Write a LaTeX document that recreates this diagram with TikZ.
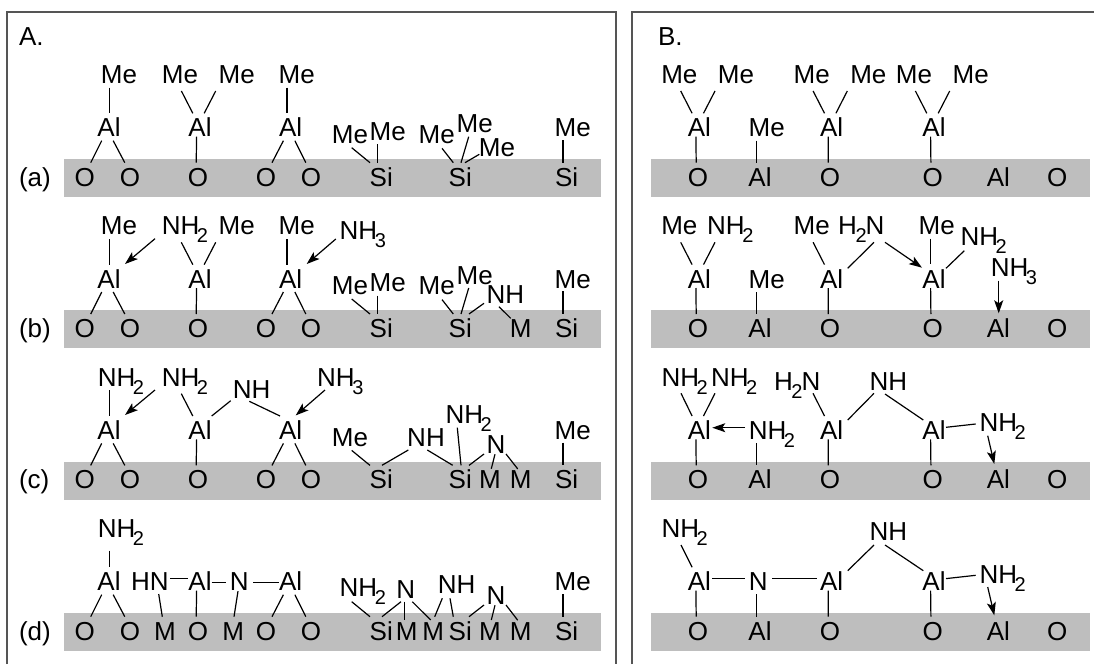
\documentclass[tikz,border=0pt]{standalone}
\usepackage{fontspec}
\setmainfont{Liberation Sans}
\usetikzlibrary{arrows.meta}
\newcommand{\subtwo}[1]{\raisebox{-8pt}{\fontsize{20}{20}\selectfont #1}}
\newcommand{\NHtwo}{NH\kern-2.5pt\subtwo{2}}
\newcommand{\NHthree}{NH\kern-2.5pt\subtwo{3}}
\newcommand{\HtwoN}{H\kern-1.5pt\subtwo{2}\kern-1pt N}
% connector: node a + offset, node b + offset
\newcommand{\bond}[4]{\draw[bondline] ([shift={(#2)}]#1.base) -- ([shift={(#4)}]#3.base);}
\newcommand{\arrowbond}[4]{\draw[arrowline] ([shift={(#2)}]#1.base) -- ([shift={(#4)}]#3.base);}
% repeated pieces
\newcommand{\alOO}[3]{\bond{#1}{-7.3,4}{#2}{6,-23.3}\bond{#1}{4.2,4}{#3}{-5.2,-23.3}}
\newcommand{\alO}[2]{\bond{#1}{-3.4,0}{#2}{-1.8,-23.3}}
\newcommand{\meL}[2]{\bond{#1}{1.4,7.7}{#2}{-7.2,-23.4}}
\newcommand{\meR}[2]{\bond{#1}{-21,7.7}{#2}{4.2,-23.4}}
\newcommand{\sMeL}[2]{\bond{#1}{1.7,4.4}{#2}{-11.3,-23.3}}
\newcommand{\sMeR}[2]{\bond{#1}{-10,4.3}{#2}{-3.6,-23.3}}
\newcommand{\sMe}[2]{\bond{#1}{-9.7,3.3}{#2}{-3.7,-23.3}}
\newcommand{\triN}[4]{\bond{#1}{-12,0.7}{#2}{8.7,-23.3}\bond{#1}{-1,0.9}{#3}{1.3,-20}\bond{#1}{10,0.7}{#4}{-3,-19.8}}
\tikzset{
  atom/.style={anchor=base,inner sep=0pt,outer sep=0pt,font=\fontsize{26}{26}\selectfont,text=black},
  lab/.style={anchor=base west,inner sep=0pt,outer sep=0pt,font=\fontsize{26}{26}\selectfont,text=black},
  band/.style={fill=bandgray,draw=none},
  frameline/.style={draw=framegray,line width=2pt},
  bondline/.style={draw=black,line width=1.2pt},
  arrowline/.style={draw=black,line width=1.2pt,-{Stealth[length=13pt,width=9pt,inset=3pt]}},
}
\definecolor{bandgray}{HTML}{BEBEBE}
\definecolor{framegray}{HTML}{555555}
\begin{document}
\begin{tikzpicture}[x=1pt,y=-1pt]
\useasboundingbox (0,0) rectangle (1094,664);
% frames
\draw[frameline] (7,664) -- (7,11.5) -- (616,11.5) -- (616,664);
\draw[frameline] (632,664) -- (632,11.5) -- (1094,11.5);
% bands
\foreach \t in {159,310.3,461.7,613}{
  \fill[band] (64,\t) rectangle (601,{\t+38});
  \fill[band] (651,\t) rectangle (1090,{\t+38});
}
% labels
\node[lab] (lA) at (19,45.7) {A.};
\node[lab] (lB) at (658,45.7) {B.};
\node[lab] (la) at (19,186) {(a)};
\node[lab] (lb) at (19,337.3) {(b)};
\node[lab] (lc) at (19,488.7) {(c)};
\node[lab] (ld) at (19,640) {(d)};

% ---------- Panel A, row a ----------
\node[atom] (a1M) at (119,83.3) {Me};
\node[atom] (a2ML) at (180,83.3) {Me};
\node[atom] (a2MR) at (236.7,83.3) {Me};
\node[atom] (a3M) at (296.7,83.3) {Me};
\node[atom] (a1A) at (109,136.7) {Al};
\node[atom] (a2A) at (200,136.7) {Al};
\node[atom] (a3A) at (290.7,136.7) {Al};
\node[atom] (a1O) at (84.7,186) {O};
\node[atom] (a2O) at (130,186) {O};
\node[atom] (a3O) at (198,186) {O};
\node[atom] (a4O) at (266,186) {O};
\node[atom] (a5O) at (311,186) {O};
\node[atom] (a4ML) at (350,143.3) {Me};
\node[atom] (a4MR) at (387.7,140) {Me};
\node[atom] (a4S) at (381.3,186) {Si};
\node[atom] (a5ML) at (436.7,143.3) {Me};
\node[atom] (a5MT) at (474.7,132.7) {Me};
\node[atom] (a5MR) at (497,156) {Me};
\node[atom] (a5S) at (460.3,186) {Si};
\node[atom] (a6M) at (572.7,136.7) {Me};
\node[atom] (a6S) at (566.7,186) {Si};
\bond{a1M}{-9.7,4.4}{a1A}{0.3,-23.4}
\meL{a2ML}{a2A}\meR{a2MR}{a2A}
\bond{a3M}{-9.7,4.4}{a3A}{-3.7,-23.4}
\alOO{a1A}{a1O}{a2O}\alO{a2A}{a3O}\alOO{a3A}{a4O}{a5O}
\sMeL{a4ML}{a4S}\sMeR{a4MR}{a4S}
\bond{a5ML}{5.3,5}{a5S}{-7,-23.3}
\bond{a5MT}{-6,4}{a5S}{0.7,-23.3}
\bond{a5MR}{-17.7,-1.7}{a5S}{4.7,-23.3}
\sMe{a6M}{a6S}

% ---------- Panel A, row b ----------
\node[atom] (b1M) at (119,234.6) {Me};
\node[atom] (b2N) at (185,234.6) {\NHtwo};
\node[atom] (b2MR) at (236.7,234.6) {Me};
\node[atom] (b3M) at (296.7,234.6) {Me};
\node[atom] (b3N) at (362.8,239) {\NHthree};
\node[atom] (b1A) at (109,288) {Al};
\node[atom] (b2A) at (200,288) {Al};
\node[atom] (b3A) at (290.7,288) {Al};
\node[atom] (b1O) at (84.7,337.3) {O};
\node[atom] (b2O) at (130,337.3) {O};
\node[atom] (b3O) at (198,337.3) {O};
\node[atom] (b4O) at (266,337.3) {O};
\node[atom] (b5O) at (311,337.3) {O};
\node[atom] (b4ML) at (350,294.6) {Me};
\node[atom] (b4MR) at (387.7,291.3) {Me};
\node[atom] (b4S) at (381.3,337.3) {Si};
\node[atom] (b5ML) at (436.7,294.6) {Me};
\node[atom] (b5MT) at (474.7,284) {Me};
\node[atom] (b5NH) at (505.3,303.3) {NH};
\node[atom] (b5S) at (460.3,337.3) {Si};
\node[atom] (b5M) at (520.7,337.3) {M};
\node[atom] (b6M) at (572.7,288) {Me};
\node[atom] (b6S) at (566.7,337.3) {Si};
\bond{b1M}{-9.7,4.4}{b1A}{0.3,-23.4}
\arrowbond{b2N}{-30,4.1}{b1A}{16,-24}
\bond{b2N}{-3.7,7.7}{b2A}{-7.2,-23.4}
\meR{b2MR}{b2A}
\bond{b3M}{-9.7,4.4}{b3A}{-3.7,-23.4}
\arrowbond{b3N}{-27,0}{b3A}{16,-24}
\alOO{b1A}{b1O}{b2O}\alO{b2A}{b3O}\alOO{b3A}{b4O}{b5O}
\sMeL{b4ML}{b4S}\sMeR{b4MR}{b4S}
\bond{b5ML}{5.3,5}{b5S}{-7,-23.3}
\bond{b5MT}{-6,4}{b5S}{0.7,-23.3}
\bond{b5NH}{-21.3,0}{b5S}{8.7,-23.3}
\bond{b5NH}{-6.3,3.4}{b5M}{-10,-19}
\sMe{b6M}{b6S}

% ---------- Panel A, row c ----------
\node[atom] (c1N) at (121,386) {\NHtwo};
\node[atom] (c2N) at (185,386) {\NHtwo};
\node[atom] (c2H) at (251.7,398.3) {NH};
\node[atom] (c3N) at (340.3,386) {\NHthree};
\node[atom] (c1A) at (109,439.4) {Al};
\node[atom] (c2A) at (200,439.4) {Al};
\node[atom] (c3A) at (290.7,439.4) {Al};
\node[atom] (c1O) at (84.7,488.7) {O};
\node[atom] (c2O) at (130,488.7) {O};
\node[atom] (c3O) at (198,488.7) {O};
\node[atom] (c4O) at (266,488.7) {O};
\node[atom] (c5O) at (311,488.7) {O};
\node[atom] (c4M) at (350,446) {Me};
\node[atom] (c4H) at (426,446.7) {NH};
\node[atom] (c4S) at (381.3,488.7) {Si};
\node[atom] (c5N) at (468.7,423.3) {\NHtwo};
\node[atom] (c5T) at (496,453.3) {N};
\node[atom] (c5S) at (460.3,488.7) {Si};
\node[atom] (c5MA) at (490,488.7) {M};
\node[atom] (c5MB) at (520.7,488.7) {M};
\node[atom] (c6M) at (572.7,439.4) {Me};
\node[atom] (c6S) at (566.7,488.7) {Si};
\bond{c1N}{-11.7,4}{c1A}{0.3,-23.4}
\arrowbond{c2N}{-30,4}{c1A}{16,-24.4}
\bond{c2N}{-3.7,7.7}{c2A}{-7.2,-23.4}
\bond{c2H}{-21,2.4}{c2A}{11.7,-23.4}
\bond{c2H}{-2.4,3}{c3A}{-10.7,-23.4}
\arrowbond{c3N}{-15.3,4}{c3A}{5,-24}
\alOO{c1A}{c1O}{c2O}\alO{c2A}{c3O}\alOO{c3A}{c4O}{c5O}
\sMeL{c4M}{c4S}
\bond{c4H}{-17.7,3.3}{c4S}{0.7,-23.4}
\bond{c4H}{1.3,3.3}{c5S}{-7.6,-23.4}
\bond{c5N}{-11.4,4.4}{c5S}{0.7,-23.4}
\triN{c5T}{c5S}{c5MA}{c5MB}
\sMe{c6M}{c6S}

% ---------- Panel A, row d ----------
\node[atom] (d1N) at (121,537) {\NHtwo};
\node[atom] (d1A) at (109,590.7) {Al};
\node[atom] (d2H) at (150,590.7) {HN};
\node[atom] (d2A) at (200,590.7) {Al};
\node[atom] (d3N) at (239.3,590.7) {N};
\node[atom] (d3A) at (290.7,590.7) {Al};
\node[atom] (d1O) at (84.7,640) {O};
\node[atom] (d2O) at (130,640) {O};
\node[atom] (d1M) at (165,640) {M};
\node[atom] (d3O) at (198,640) {O};
\node[atom] (d2M) at (233.3,640) {M};
\node[atom] (d4O) at (266,640) {O};
\node[atom] (d5O) at (311,640) {O};
\node[atom] (d4N) at (362.8,596.7) {\NHtwo};
\node[atom] (d4T) at (405.7,598.3) {N};
\node[atom] (d5H) at (456.7,593.3) {NH};
\node[atom] (d5T) at (496,604.3) {N};
\node[atom] (d4S) at (381.3,640) {Si};
\node[atom] (d4MA) at (406.7,640) {M};
\node[atom] (d4MB) at (433.3,640) {M};
\node[atom] (d5S) at (460.3,640) {Si};
\node[atom] (d5MA) at (490,640) {M};
\node[atom] (d5MB) at (520.7,640) {M};
\node[atom] (d6M) at (572.7,590.7) {Me};
\node[atom] (d6S) at (566.7,640) {Si};
\bond{d1N}{-11.7,13.7}{d1A}{0.3,-23.4}
\bond{d2H}{20,-12}{d2A}{-11.7,-12}
\bond{d2A}{11.7,-8.4}{d3N}{-13.3,-8.4}
\bond{d3N}{14,-8.4}{d3A}{-11.4,-8.4}
\bond{d2H}{8.7,3.3}{d1M}{-2.7,-23.3}
\bond{d3N}{-1.3,0.5}{d2M}{0.7,-23.3}
\alOO{d1A}{d1O}{d2O}\alO{d2A}{d3O}\alOO{d3A}{d4O}{d5O}
\bond{d4N}{-11.1,5}{d4S}{-11.3,-23.3}
\bond{d4T}{-4.7,3.4}{d4S}{0.7,-23.3}
\bond{d4T}{-1.4,3.4}{d4MA}{-2.4,-20}
\bond{d4T}{6.6,3.4}{d4MB}{-2.6,-20}
\bond{d5H}{-14.4,5}{d4MB}{1.4,-23.3}
\bond{d5H}{-6.7,5}{d5S}{-7,-23.3}
\triN{d5T}{d5S}{d5MA}{d5MB}
\sMe{d6M}{d6S}

% ---------- Panel B, row a ----------
\node[atom] (e1ML) at (679.3,83.3) {Me};
\node[atom] (e1MR) at (736,83.3) {Me};
\node[atom] (e3ML) at (811.7,83.3) {Me};
\node[atom] (e3MR) at (868.3,83.3) {Me};
\node[atom] (e4ML) at (914,83.3) {Me};
\node[atom] (e4MR) at (970.7,83.3) {Me};
\node[atom] (e1A) at (699.3,136.7) {Al};
\node[atom] (e2M) at (766.7,136.7) {Me};
\node[atom] (e3A) at (831.7,136.7) {Al};
\node[atom] (e4A) at (934,136.7) {Al};
\node[atom] (e1O) at (698,186) {O};
\node[atom] (e2S) at (760,186) {Al};
\node[atom] (e3O) at (830,186) {O};
\node[atom] (e4O) at (932.7,186) {O};
\node[atom] (e5S) at (998.3,186) {Al};
\node[atom] (e6O) at (1057.3,186) {O};
\meL{e1ML}{e1A}\meR{e1MR}{e1A}
\meL{e3ML}{e3A}\meR{e3MR}{e3A}
\meL{e4ML}{e4A}\meR{e4MR}{e4A}
\alO{e1A}{e1O}\alO{e3A}{e3O}\alO{e4A}{e4O}
\bond{e2M}{-10,4}{e2S}{-3.3,-23.3}

% ---------- Panel B, row b ----------
\node[atom] (f1M) at (679.3,234.6) {Me};
\node[atom] (f1N) at (730.3,234.6) {\NHtwo};
\node[atom] (f3M) at (811.7,234.6) {Me};
\node[atom] (f3N) at (861.3,234.6) {\HtwoN};
\node[atom] (f4M) at (936.7,234.6) {Me};
\node[atom] (f4N) at (983.7,245) {\NHtwo};
\node[atom] (f5N) at (1014,276.7) {\NHthree};
\node[atom] (f1A) at (699.3,288) {Al};
\node[atom] (f2M) at (766.7,288) {Me};
\node[atom] (f3A) at (831.7,288) {Al};
\node[atom] (f4A) at (934,288) {Al};
\node[atom] (f1O) at (698,337.3) {O};
\node[atom] (f2S) at (760,337.3) {Al};
\node[atom] (f3O) at (830,337.3) {O};
\node[atom] (f4O) at (932.7,337.3) {O};
\node[atom] (f5S) at (998.3,337.3) {Al};
\node[atom] (f6O) at (1057.3,337.3) {O};
\meL{f1M}{f1A}
\bond{f1N}{-15.3,7.7}{f1A}{4.2,-23.4}
\meL{f3M}{f3A}
\bond{f3N}{12.7,7.7}{f3A}{16,-19.7}
\arrowbond{f3N}{23.7,7.7}{f4A}{-12,-20.3}
\bond{f4M}{-6,4.1}{f4A}{-3.3,-23.7}
\bond{f4N}{-19.4,5.7}{f4A}{12,-19.7}
\arrowbond{f5N}{-15.3,4}{f5S}{0.4,-24}
\alO{f1A}{f1O}\alO{f3A}{f3O}\alO{f4A}{f4O}
\bond{f2M}{-10,4}{f2S}{-3.3,-23.3}

% ---------- Panel B, row c ----------
\node[atom] (g1N) at (684.7,386) {\NHtwo};
\node[atom] (g1R) at (734.2,386) {\NHtwo};
\node[atom] (g3N) at (797.2,390) {\HtwoN};
\node[atom] (g3H) at (888.3,390) {NH};
\node[atom] (g1A) at (699.3,439.4) {Al};
\node[atom] (g2N) at (772,439.4) {\NHtwo};
\node[atom] (g3A) at (831.7,439.4) {Al};
\node[atom] (g4A) at (934,439.4) {Al};
\node[atom] (g5N) at (1002.7,431.7) {\NHtwo};
\node[atom] (g1O) at (698,488.7) {O};
\node[atom] (g2S) at (760,488.7) {Al};
\node[atom] (g3O) at (830,488.7) {O};
\node[atom] (g4O) at (932.7,488.7) {O};
\node[atom] (g5S) at (998.3,488.7) {Al};
\node[atom] (g6O) at (1057.3,488.7) {O};
\bond{g1N}{-3.7,7.3}{g1A}{-7.2,-23.4}
\bond{g1R}{-19.2,7.3}{g1A}{4.2,-23.4}
\arrowbond{g2N}{-27,-11.7}{g1A}{13,-11.7}
\bond{g2N}{-15.3,3.9}{g2S}{-3.3,-23.3}
\bond{g3N}{15.8,3.3}{g3A}{-7.2,-23.4}
\bond{g3H}{-14.3,3.3}{g3A}{16,-19.4}
\bond{g3H}{-3.3,4}{g4A}{-10.7,-19.4}
\bond{g4A}{12,-12.1}{g5N}{-27,-7.7}
\arrowbond{g5N}{-15,4}{g5S}{-4,-24.7}
\alO{g1A}{g1O}\alO{g3A}{g3O}\alO{g4A}{g4O}

% ---------- Panel B, row d ----------
\node[atom] (h1N) at (684.7,537) {\NHtwo};
\node[atom] (h3H) at (888.3,540.7) {NH};
\node[atom] (h1A) at (699.3,590.7) {Al};
\node[atom] (h2N) at (758.3,590.7) {N};
\node[atom] (h3A) at (831.7,590.7) {Al};
\node[atom] (h4A) at (934,590.7) {Al};
\node[atom] (h5N) at (1002.7,583) {\NHtwo};
\node[atom] (h1O) at (698,640) {O};
\node[atom] (h2S) at (760,640) {Al};
\node[atom] (h3O) at (830,640) {O};
\node[atom] (h4O) at (932.7,640) {O};
\node[atom] (h5S) at (998.3,640) {Al};
\node[atom] (h6O) at (1057.3,640) {O};
\bond{h1N}{-3.7,8}{h1A}{-7.2,-23.4}
\bond{h1A}{13,-12}{h2N}{-13.3,-12}
\bond{h2N}{14,-12}{h3A}{-15,-12}
\bond{h2N}{-1.6,3.3}{h2S}{-3.3,-23.3}
\bond{h3H}{-14.3,4.3}{h3A}{16,-20}
\bond{h3H}{-3.3,4.3}{h4A}{-10.7,-20}
\bond{h4A}{12,-12.1}{h5N}{-27,-7.7}
\arrowbond{h5N}{-15,4}{h5S}{-4,-24.7}
\alO{h1A}{h1O}\alO{h3A}{h3O}\alO{h4A}{h4O}
\end{tikzpicture}
\end{document}
